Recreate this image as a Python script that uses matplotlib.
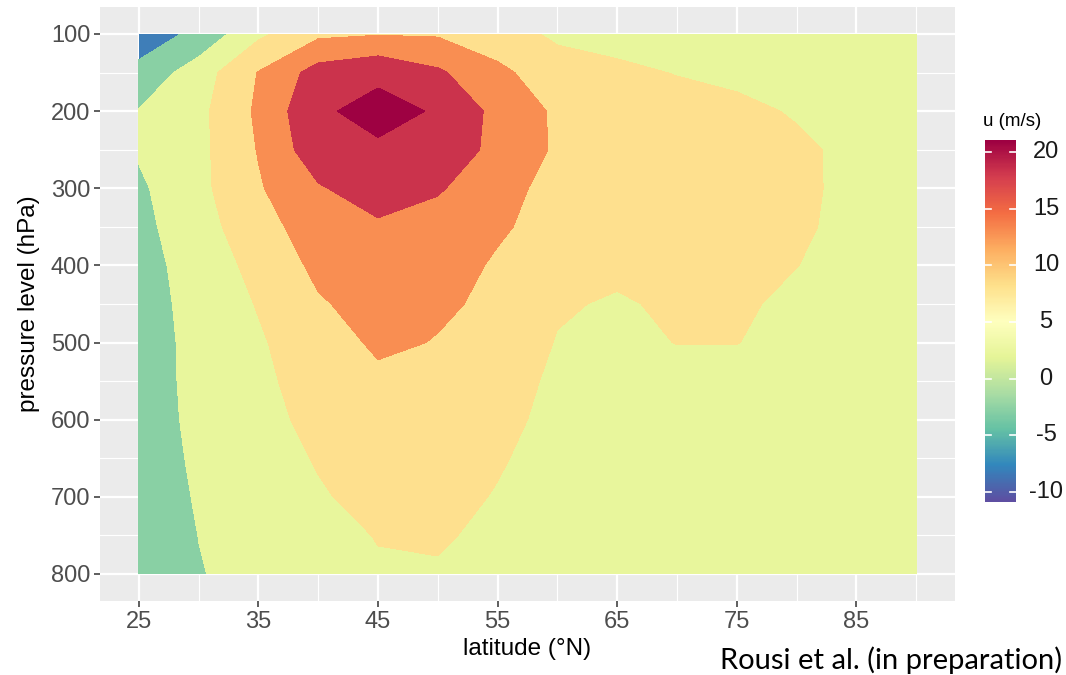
import matplotlib
matplotlib.use("Agg")
import matplotlib.pyplot as plt
import numpy as np
from matplotlib.colors import Normalize

# latitude (°N) and pressure level (hPa) grid of the zonal wind field
latitude = [25, 30, 35, 40, 45, 50, 55, 60, 65, 70, 75, 80, 85, 90]
pressure = [100, 150, 200, 250, 300, 350, 400, 450, 500, 550, 600, 650, 700, 750, 800]

# u (m/s), one row per pressure level
u_100 = [-8.0, -3.7, 4.0, 9.0, 9.7, 9.5, 7.5, 4.0, 3.2, 2.8, 2.5, 2.3, 2.2, 2.0]
u_150 = [-3.5, 2.53, 10.2, 17.0, 19.0, 15.76, 11.0, 7.5, 6.0, 4.8, 4.2, 3.8, 3.5, 3.3]
u_200 = [0.2, 3.71, 10.86, 19.3, 21.5, 19.58, 13.55, 9.2, 8.0, 7.0, 5.8, 4.7, 3.8, 3.3]
u_250 = [0.5, 3.68, 10.26, 18.16, 19.3, 18.5, 13.5, 9.33, 8.3, 7.4, 6.6, 5.6, 4.2, 3.5]
u_300 = [-0.8, 3.7, 9.5, 14.5, 17.6, 15.5, 11.8, 8.3, 7.8, 7.3, 6.7, 5.8, 4.0, 3.3]
u_350 = [-1.3, 2.85, 8.3, 12.2, 14.2, 13.0, 10.6, 8.3, 7.2, 7.0, 6.6, 5.6, 3.9, 3.2]
u_400 = [-2.0, 2.25, 6.4, 11.1, 12.8, 12.0, 9.44, 7.0, 5.8, 6.2, 6.3, 5.05, 3.8, 3.0]
u_450 = [-2.5, 1.96, 5.26, 9.5, 11.8, 10.6, 9.24, 5.4, 4.6, 5.6, 5.5, 4.3, 3.5, 2.9]
u_500 = [-2.8, 1.7, 4.5, 7.6, 10.8, 9.8, 7.5, 4.8, 4.4, 5.05, 5.05, 4.2, 3.3, 2.8]
u_550 = [-3.0, 1.7, 4.1, 6.8, 9.0, 8.2, 6.4, 4.4, 3.9, 4.0, 3.9, 3.6, 3.0, 2.6]
u_600 = [-3.2, 1.5, 3.6, 6.2, 7.8, 7.4, 6.0, 4.0, 3.5, 3.4, 3.3, 3.1, 2.8, 2.5]
u_650 = [-3.3, 1.0, 3.2, 5.3, 6.8, 6.7, 5.3, 3.8, 3.2, 3.0, 2.9, 2.8, 2.6, 2.4]
u_700 = [-3.4, 0.5, 2.6, 4.6, 6.2, 6.0, 4.8, 3.5, 2.9, 2.7, 2.6, 2.5, 2.4, 2.3]
u_750 = [-3.5, 0.05, 2.0, 3.8, 5.15, 5.4, 4.2, 3.0, 2.5, 2.3, 2.2, 2.2, 2.1, 2.0]
u_800 = [-3.6, -0.25, 1.6, 3.2, 4.6, 4.65, 3.7, 2.6, 2.2, 2.0, 1.9, 1.9, 1.8, 1.7]

levels = [-10, -5, 0, 5, 10, 15, 20, 25]
band_colors = ["#3F7EB8", "#89D0A4", "#E8F69C", "#FEE08E", "#F98E52", "#CB334C", "#9E0142"]
colorbar_ticks = [-10, -5, 0, 5, 10, 15, 20]
colorbar_limits = (-10.9, 21.05)

u = np.array([u_100, u_150, u_200, u_250, u_300, u_350, u_400, u_450,
              u_500, u_550, u_600, u_650, u_700, u_750, u_800])

plt.rcParams["font.family"] = ["Liberation Sans", "DejaVu Sans"]

W, H = 1066, 675
fig = plt.figure(figsize=(W / 100, H / 100), dpi=100)
ax = fig.add_axes([100 / W, 1 - 601 / H, 855 / W, 594 / H])

ax.set_facecolor("#EBEBEB")
ax.contourf(latitude, pressure, u, levels=levels, colors=band_colors, zorder=2)

ax.set_xlim(21.75, 93.25)
ax.set_ylim(835, 65)
ax.set_xticks(range(25, 90, 10))
ax.set_xticks(range(30, 95, 10), minor=True)
ax.set_yticks(range(100, 801, 100))
ax.set_yticks(range(150, 800, 100), minor=True)
ax.grid(which="major", color="white", linewidth=1.6, zorder=1)
ax.grid(which="minor", color="white", linewidth=0.8, zorder=1)
ax.set_axisbelow(True)
for s in ax.spines.values():
    s.set_visible(False)
ax.tick_params(which="major", length=4, width=1.1, color="#333333",
               labelsize=17, labelcolor="#4D4D4D", pad=3)
ax.tick_params(which="minor", length=0)
ax.set_xlabel("latitude (°N)", fontsize=17.5, labelpad=4)
ax.set_ylabel("pressure level (hPa)", fontsize=17.5, labelpad=8)

# colour bar (continuous Spectral gradient)
cax = fig.add_axes([985 / W, 1 - 502 / H, 31 / W, 362 / H])
norm = Normalize(*colorbar_limits)
grad = np.linspace(colorbar_limits[0], colorbar_limits[1], 300).reshape(-1, 1)
cax.imshow(grad, aspect="auto", cmap="Spectral_r", norm=norm, origin="lower",
           extent=[0, 1, colorbar_limits[0], colorbar_limits[1]])
cax.set_xlim(0, 1)
cax.set_ylim(*colorbar_limits)
for t in colorbar_ticks:
    cax.plot([0, 0.2], [t, t], color="white", linewidth=1.2)
    cax.plot([0.8, 1], [t, t], color="white", linewidth=1.2)
    cax.text((1046 - 985) / 31, t, str(t), ha="center", va="center",
             fontsize=17, color="#1A1A1A", transform=cax.get_yaxis_transform())
cax.set_xticks([])
cax.set_yticks([])
for s in cax.spines.values():
    s.set_visible(False)
fig.text(983 / W, 1 - 121 / H, "u (m/s)", fontsize=13.5, ha="left", va="center")

fig.text(1062 / W, 1 - 660 / H, "Rousi et al. (in preparation)", fontsize=21,
         ha="right", va="center", family=["Lato", "DejaVu Sans"])

fig.savefig("out.png", dpi=100)
